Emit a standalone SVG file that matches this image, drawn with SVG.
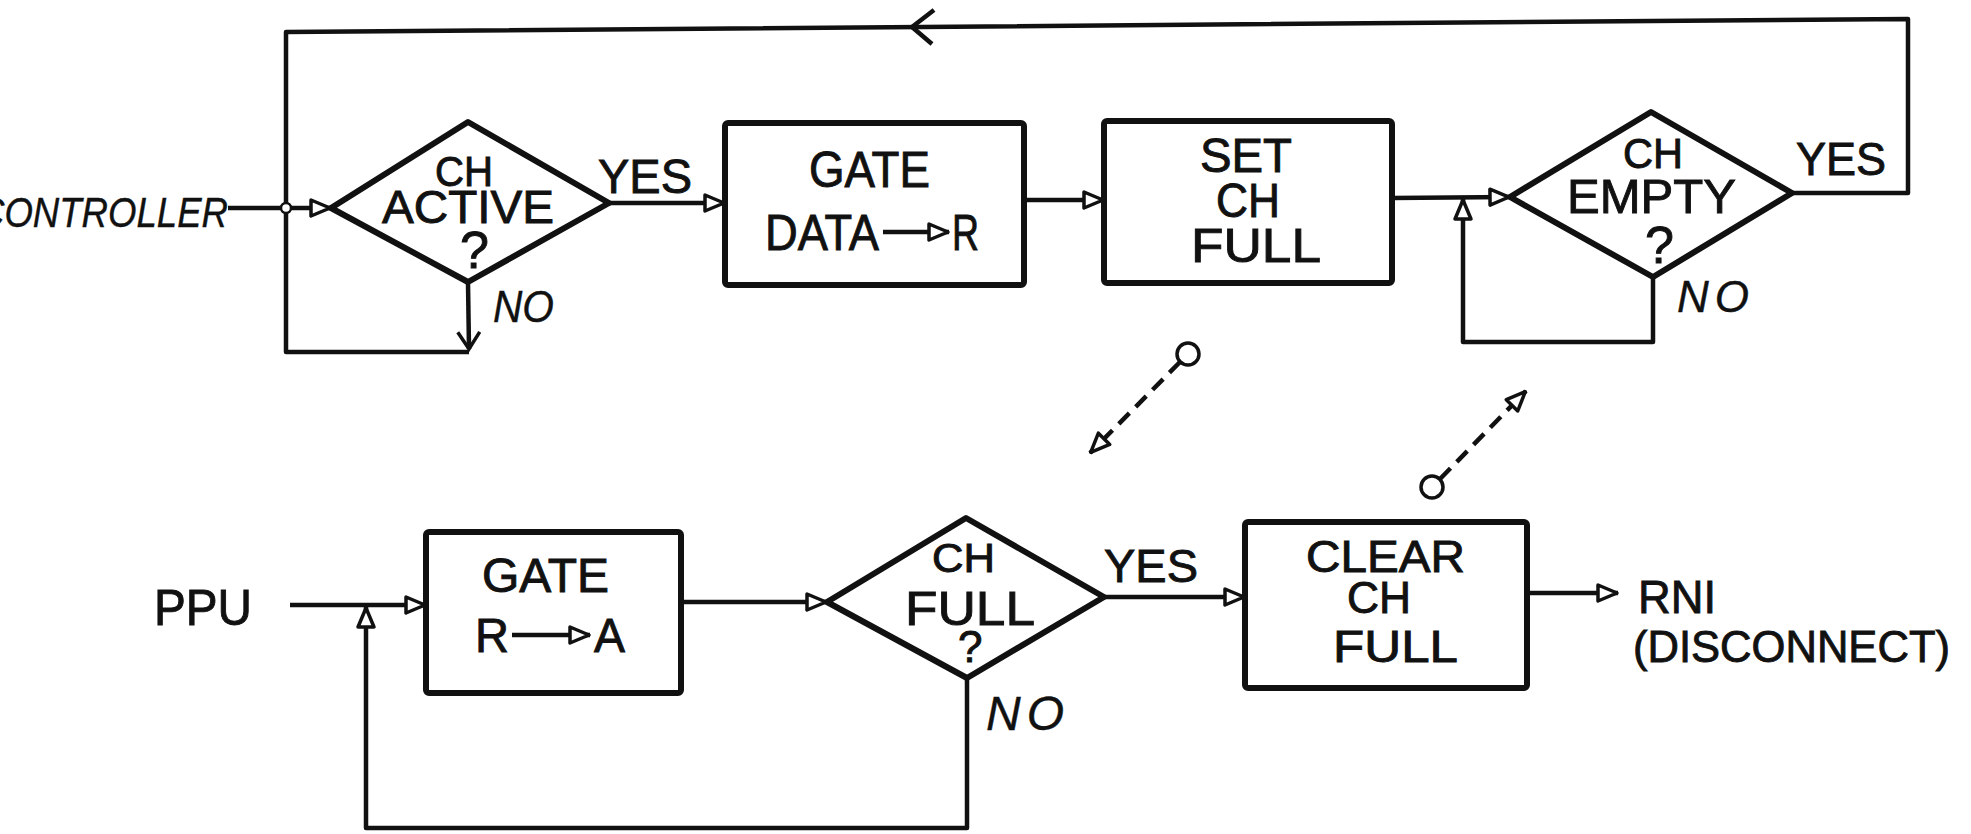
<svg xmlns="http://www.w3.org/2000/svg" width="1971" height="834" viewBox="0 0 1971 834">
<style>
.shape{fill:none;stroke:#111;stroke-width:6;stroke-linejoin:round}
.conn path{fill:none;stroke:#111;stroke-width:4.5;stroke-linejoin:round}
.conn .dash{stroke-dasharray:15 9}
text{font-family:"Liberation Sans",Arial,sans-serif;fill:#111;stroke:#111;stroke-width:0.9}
.hand{font-style:italic;stroke-width:0.4}
.mid{text-anchor:middle}
</style>
<defs>
<marker id="tri" viewBox="0 0 26 22" refX="23" refY="11" markerWidth="26" markerHeight="22" markerUnits="userSpaceOnUse" orient="auto">
<path d="M3,3 L22,11 L3,19 Z" fill="#fff" stroke="#111" stroke-width="3.5" stroke-linejoin="round"/>
</marker>
<marker id="vee" viewBox="0 0 22 26" refX="19" refY="13" markerWidth="22" markerHeight="26" markerUnits="userSpaceOnUse" orient="auto">
<path d="M2,2 L19,13 L2,24" fill="none" stroke="#111" stroke-width="3.5"/>
</marker>
</defs>
<rect width="1971" height="834" fill="#fff"/>

<g class="conn" id="connectors">
<path d="M1792,193 L1908,193 L1908,19 L286,32 L286,352 L469,352"/>
<path d="M934,10 L912,27 L932,44"/>
<path d="M468,283 L469,349" marker-end="url(#vee)"/>
<path d="M228,208 L331,208" marker-end="url(#tri)"/>
<path d="M609,203 L725,203" marker-end="url(#tri)"/>
<path d="M1024,200 L1104,200" marker-end="url(#tri)"/>
<path d="M1392,198 L1510,197" marker-end="url(#tri)"/>
<path d="M1653,277 L1653,342 L1463,342 L1463,199" marker-end="url(#tri)"/>
<path d="M290,605 L426,605" marker-end="url(#tri)"/>
<path d="M967,678 L967,828 L366,828 L366,607" marker-end="url(#tri)"/>
<path d="M681,602 L827,602" marker-end="url(#tri)"/>
<path d="M1104,597 L1245,597" marker-end="url(#tri)"/>
<path d="M1527,593 L1618,593" marker-end="url(#tri)"/>
<path class="dash" d="M1180,362 L1090,453" marker-end="url(#tri)"/>
<path class="dash" d="M1440,479 L1526,391" marker-end="url(#tri)"/>
<circle cx="286" cy="208" r="5" fill="#fff" stroke="#111" stroke-width="2.5"/>
<circle cx="1188" cy="354" r="11" fill="#fff" stroke="#111" stroke-width="3.5"/>
<circle cx="1432" cy="487" r="11" fill="#fff" stroke="#111" stroke-width="3.5"/>
</g>

<g id="controller">
<text class="hand" x="-22" y="227" font-size="42" textLength="250" lengthAdjust="spacingAndGlyphs">CONTROLLER</text>
</g>

<g id="ch-active">
<polygon class="shape" points="331,208 468,122 609,203 468,282"/>
<text font-size="42"><tspan x="435" y="186" textLength="58" lengthAdjust="spacingAndGlyphs">CH</tspan><tspan x="382" y="223" font-size="46" textLength="172" lengthAdjust="spacingAndGlyphs">ACTIVE</tspan><tspan x="460" y="268" font-size="52">?</tspan></text>
<text x="598" y="193" font-size="48" textLength="94" lengthAdjust="spacingAndGlyphs">YES</text>
<text class="hand" x="493" y="322" font-size="44" textLength="61" lengthAdjust="spacingAndGlyphs">NO</text>
</g>

<g id="gate-data">
<rect class="shape" x="725" y="123" width="299" height="162" rx="3"/>
<text font-size="50"><tspan x="809" y="187" textLength="121" lengthAdjust="spacingAndGlyphs">GATE</tspan><tspan x="765" y="250" textLength="114" lengthAdjust="spacingAndGlyphs">DATA</tspan><tspan x="952" y="250" textLength="27" lengthAdjust="spacingAndGlyphs">R</tspan></text>
<path d="M883,232 L949,232" fill="none" stroke="#111" stroke-width="4.5" marker-end="url(#tri)"/>
</g>

<g id="set-ch-full">
<rect class="shape" x="1104" y="121" width="288" height="162" rx="3"/>
<text font-size="48"><tspan x="1200" y="172" textLength="92" lengthAdjust="spacingAndGlyphs">SET</tspan><tspan x="1216" y="217" textLength="64" lengthAdjust="spacingAndGlyphs">CH</tspan><tspan x="1191" y="262" textLength="130" lengthAdjust="spacingAndGlyphs">FULL</tspan></text>
</g>

<g id="ch-empty">
<polygon class="shape" points="1510,197 1651,112 1792,193 1653,277"/>
<text font-size="43"><tspan x="1623" y="168" textLength="60" lengthAdjust="spacingAndGlyphs">CH</tspan><tspan x="1567" y="213" font-size="48" textLength="169" lengthAdjust="spacingAndGlyphs">EMPTY</tspan><tspan x="1645" y="263" font-size="52">?</tspan></text>
<text x="1796" y="175" font-size="46" textLength="90" lengthAdjust="spacingAndGlyphs">YES</text>
<text class="hand" x="1677" y="312" font-size="44" textLength="72" lengthAdjust="spacing">N O</text>
</g>

<g id="ppu">
<text x="154" y="625" font-size="50" textLength="98" lengthAdjust="spacingAndGlyphs">PPU</text>
</g>

<g id="gate-r-a">
<rect class="shape" x="426" y="532" width="255" height="161" rx="3"/>
<text font-size="48"><tspan x="482" y="592" textLength="127" lengthAdjust="spacingAndGlyphs">GATE</tspan><tspan x="475" y="652" textLength="34" lengthAdjust="spacingAndGlyphs">R</tspan><tspan x="594" y="652" textLength="31" lengthAdjust="spacingAndGlyphs">A</tspan></text>
<path d="M512,635 L590,635" fill="none" stroke="#111" stroke-width="4.5" marker-end="url(#tri)"/>
</g>

<g id="ch-full">
<polygon class="shape" points="827,602 966,518 1104,597 967,678"/>
<text font-size="40"><tspan x="932" y="572" textLength="63" lengthAdjust="spacingAndGlyphs">CH</tspan><tspan x="905" y="625" font-size="48" textLength="130" lengthAdjust="spacingAndGlyphs">FULL</tspan><tspan x="958" y="662" font-size="44">?</tspan></text>
<text x="1104" y="582" font-size="47" textLength="94" lengthAdjust="spacingAndGlyphs">YES</text>
<text class="hand" x="986" y="730" font-size="48" textLength="78" lengthAdjust="spacing">N O</text>
</g>

<g id="clear-ch-full">
<rect class="shape" x="1245" y="522" width="282" height="166" rx="3"/>
<text font-size="45"><tspan x="1306" y="572" textLength="159" lengthAdjust="spacingAndGlyphs">CLEAR</tspan><tspan x="1347" y="613" textLength="64" lengthAdjust="spacingAndGlyphs">CH</tspan><tspan x="1333" y="662" textLength="125" lengthAdjust="spacingAndGlyphs">FULL</tspan></text>
</g>

<g id="rni">
<text font-size="45"><tspan x="1638" y="613" font-size="47" textLength="78" lengthAdjust="spacingAndGlyphs">RNI</tspan><tspan x="1633" y="662" textLength="317" lengthAdjust="spacingAndGlyphs">(DISCONNECT)</tspan></text>
</g>
</svg>
